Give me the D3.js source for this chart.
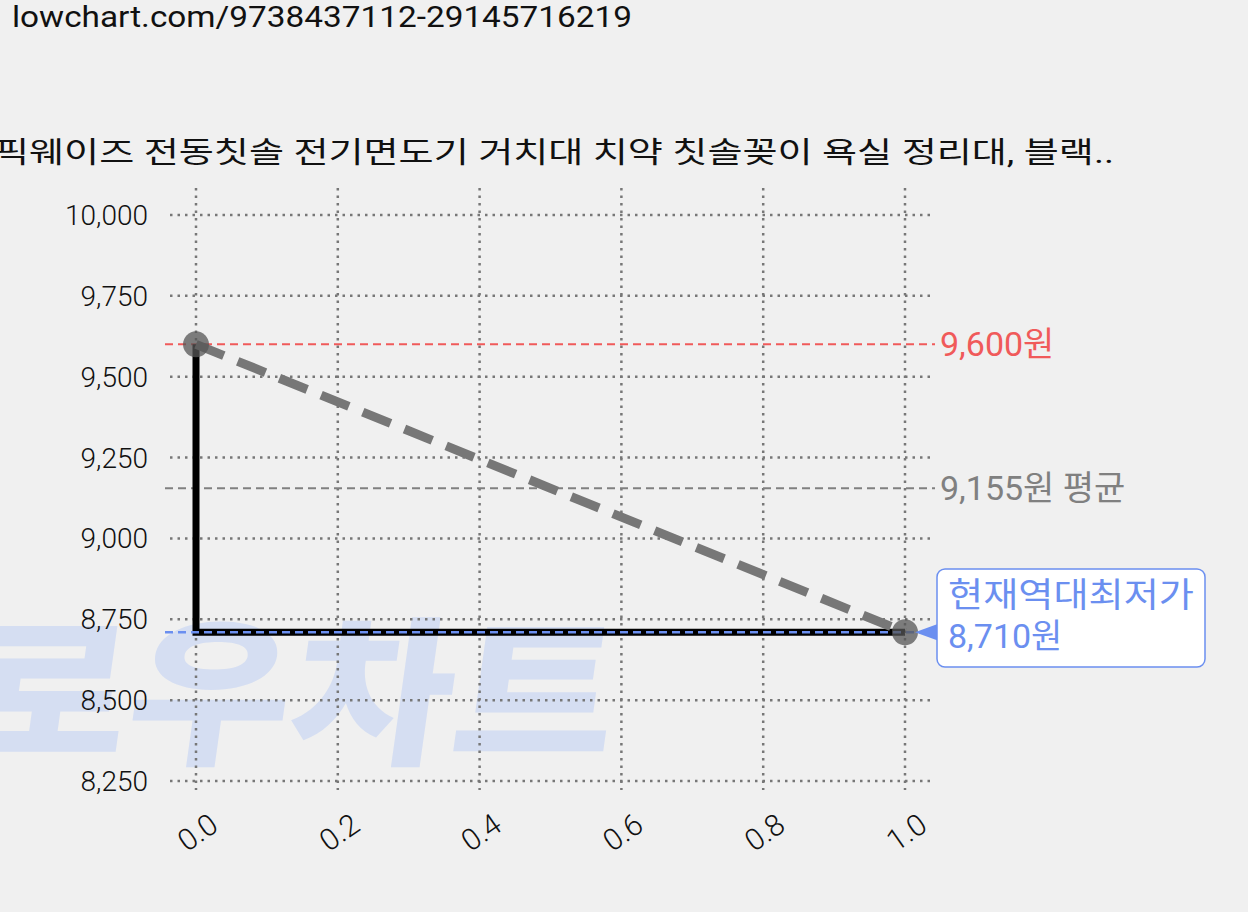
<!DOCTYPE html><html><head><meta charset="utf-8"><script src="https://cdn.jsdelivr.net/npm/d3@7"></script>
<style>body{margin:0;background:#f0f0f0}svg{display:block}text{font-family:Roboto,"Noto Sans CJK KR",sans-serif}</style></head><body>
<script>
const xTicks=[0,0.2,0.4,0.6,0.8,1.0];
const yTicks=[8250,8500,8750,9000,9250,9500,9750,10000];
const priceX=[0,1];
const priceY=[9600,8710];
const maxPrice=9600, avgPrice=9155, minPrice=8710;
const title="픽웨이즈 전동칫솔 전기면도기 거치대 치약 칫솔꽂이 욕실 정리대, 블랙..";
const W=1248,H=912;
const svg=d3.select("body").append("svg").attr("width",W).attr("height",H);
const x=d3.scaleLinear().domain([0,1]).range([196,905]);
const y=d3.scaleLinear().domain([8250,10000]).range([781,215]);
// watermark
svg.append("text").attr("x",-40).attr("y",752).attr("font-size",160).attr("font-weight",900)
 .attr("fill","#d5def2").attr("transform","skewX(-8) translate(105,0)").attr("textLength",650).attr("lengthAdjust","spacingAndGlyphs")
 .style("font-family","'Noto Sans CJK KR'").text("로우차트");
svg.append("text").attr("x",12).attr("y",27).attr("font-size",29).attr("fill","#111").attr("textLength",620).attr("lengthAdjust","spacingAndGlyphs").text("lowchart.com/9738437112-29145716219");
svg.append("text").attr("x",-6).attr("y",163).attr("font-size",29).attr("fill","#111").attr("textLength",1120).attr("lengthAdjust","spacingAndGlyphs").text(title);
// grid
const g=svg.append("g");
g.selectAll(".hg").data(yTicks).join("line").attr("x1",170).attr("x2",935).attr("y1",d=>y(d)).attr("y2",d=>y(d))
 .attr("stroke","#777").attr("stroke-width",2.5).attr("stroke-dasharray","2.5,5");
g.selectAll(".vg").data(xTicks).join("line").attr("x1",d=>x(d)).attr("x2",d=>x(d)).attr("y1",188).attr("y2",790)
 .attr("stroke","#777").attr("stroke-width",2.5).attr("stroke-dasharray","2.5,5");
g.selectAll(".yl").data(yTicks).join("text").attr("x",148).attr("y",d=>y(d)+10).attr("text-anchor","end")
 .attr("font-size",28).attr("font-weight",300).attr("fill","#111").text(d=>d3.format(",")(d));
g.selectAll(".xl").data(xTicks).join("text").attr("transform",d=>`translate(${x(d)+12},${812}) rotate(-35)`)
 .attr("text-anchor","end").attr("dy","0.7em").attr("font-size",30).attr("font-weight",300).attr("fill","#111").text(d=>d.toFixed(1));
// ref lines
svg.append("line").attr("x1",165).attr("x2",935).attr("y1",y(maxPrice)).attr("y2",y(maxPrice)).attr("stroke","#f05a5a").attr("stroke-width",2).attr("stroke-dasharray","8,5");
svg.append("text").attr("x",940).attr("y",y(maxPrice)+12).attr("font-size",34).attr("fill","#f05a5a").text("9,600원");
svg.append("line").attr("x1",165).attr("x2",935).attr("y1",y(avgPrice)).attr("y2",y(avgPrice)).attr("stroke","#808080").attr("stroke-width",2).attr("stroke-dasharray","8,5");
svg.append("text").attr("x",940).attr("y",y(avgPrice)+12).attr("font-size",34).attr("fill","#808080").text("9,155원 평균");
// step line
const pts=[[priceX[0],priceY[0]],[priceX[0],priceY[1]],[priceX[1],priceY[1]]];
svg.append("path").attr("d",d3.line().x(d=>x(d[0])).y(d=>y(d[1]))(pts)).attr("fill","none").attr("stroke","#000").attr("stroke-width",7);
svg.append("line").attr("x1",165).attr("x2",920).attr("y1",y(minPrice)).attr("y2",y(minPrice)).attr("stroke","#6b8ff0").attr("stroke-width",2.5).attr("stroke-dasharray","8,5");
svg.append("path").attr("d",d3.line().x((d,i)=>x(priceX[i])).y(d=>y(d))(priceY)).attr("fill","none").attr("stroke","#777").attr("stroke-width",9).attr("stroke-dasharray","30,15");
svg.selectAll(".pt").data(priceY).join("circle").attr("cx",(d,i)=>x(priceX[i])).attr("cy",d=>y(d)).attr("r",13).attr("fill","#555").attr("opacity",0.75);
// annotation
svg.append("path").attr("d",`M${x(1)+10},${y(minPrice)} l${22},-8 l0,16 z`).attr("fill","#6b8ff0");
svg.append("rect").attr("x",937).attr("y",569).attr("width",268).attr("height",98).attr("rx",8).attr("fill","#fff").attr("stroke","#6b8ff0").attr("stroke-width",1.5);
svg.append("text").attr("x",948).attr("y",607).attr("font-size",34).attr("fill","#6b8ff0").attr("textLength",246).attr("lengthAdjust","spacingAndGlyphs").text("현재역대최저가");
svg.append("text").attr("x",948).attr("y",648).attr("font-size",34).attr("fill","#6b8ff0").text("8,710원");
</script></body></html>
